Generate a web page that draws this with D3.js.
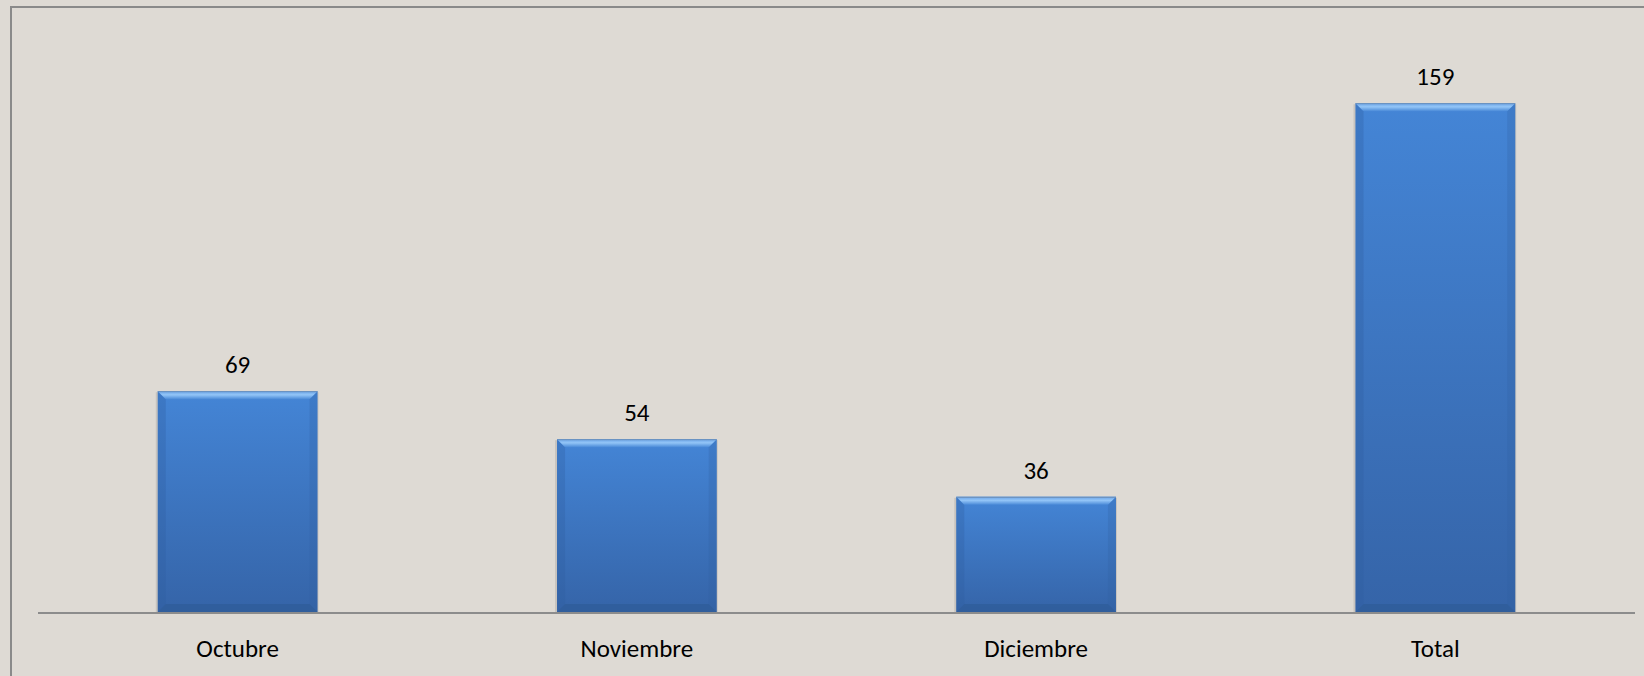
<!DOCTYPE html>
<html>
<head>
<meta charset="utf-8">
<script src="https://cdn.jsdelivr.net/npm/d3@7"></script>
<style>
  html, body { margin: 0; padding: 0; background: #dedad4; }
  svg { display: block; }
</style>
</head>
<body>
<svg width="1644" height="676"></svg>
<script>
const categories = ["Octubre", "Noviembre", "Diciembre", "Total"];
const values = [69, 54, 36, 159];
const yMax = 180;

const svg = d3.select("svg");
const width = 1644;
const height = 676;
const font = "Carlito, Calibri, Lato, sans-serif";

// background + outer frame
svg.append("rect").attr("width", width).attr("height", height).attr("fill", "#dedad4");
svg.append("rect")
  .attr("x", 11).attr("y", 7)
  .attr("width", width + 20).attr("height", height + 20)
  .attr("fill", "none").attr("stroke", "#8a8a8a").attr("stroke-width", 2);

const xScale = d3.scaleBand().domain(categories).range([38, 1635]).paddingInner(0.6).paddingOuter(0.3);
const yScale = d3.scaleLinear().domain([0, yMax]).range([612, 36]);

const defs = svg.append("defs");
const body = defs.append("linearGradient").attr("id", "body").attr("x1", 0).attr("y1", 0).attr("x2", 0).attr("y2", 1);
body.append("stop").attr("offset", "0%").attr("stop-color", "#4485d6");
body.append("stop").attr("offset", "100%").attr("stop-color", "#3564a8");
const topG = defs.append("linearGradient").attr("id", "topbev").attr("x1", 0).attr("y1", 0).attr("x2", 0).attr("y2", 1);
topG.append("stop").attr("offset", "0%").attr("stop-color", "#6aa3e8");
topG.append("stop").attr("offset", "45%").attr("stop-color", "#93c5f7");
topG.append("stop").attr("offset", "100%").attr("stop-color", "#4a8ad8");

const bev = 8;
const bars = svg.selectAll(".bar").data(values).enter().append("g").attr("class", "bar");
const bx = (d, i) => xScale(categories[i]);
const bw = xScale.bandwidth();
const by0 = yScale(0);

// soft shadow
bars.append("rect")
  .attr("x", (d, i) => bx(d, i) - 2).attr("y", (d) => yScale(d) + 1)
  .attr("width", bw + 3).attr("height", (d) => by0 - yScale(d) - 1)
  .attr("fill", "#000").attr("opacity", 0.1);

bars.append("rect")
  .attr("x", bx).attr("y", (d) => yScale(d))
  .attr("width", bw).attr("height", (d) => by0 - yScale(d))
  .attr("fill", "url(#body)");

// side bevels
bars.append("path").attr("fill", "#2f5e9e").attr("opacity", 0.3)
  .attr("d", (d, i) => {
    const x = bx(d, i), y = yScale(d);
    return `M${x},${y}L${x + bev},${y + bev}L${x + bev},${by0 - bev}L${x},${by0}Z`;
  });
bars.append("path").attr("fill", "#2f5e9e").attr("opacity", 0.25)
  .attr("d", (d, i) => {
    const x = bx(d, i) + bw, y = yScale(d);
    return `M${x},${y}L${x - bev},${y + bev}L${x - bev},${by0 - bev}L${x},${by0}Z`;
  });
// bottom bevel
bars.append("path").attr("fill", "#2b568f").attr("opacity", 0.45)
  .attr("d", (d, i) => {
    const x = bx(d, i);
    return `M${x},${by0}L${x + bev},${by0 - bev}L${x + bw - bev},${by0 - bev}L${x + bw},${by0}Z`;
  });
// top bevel
bars.append("path").attr("fill", "url(#topbev)")
  .attr("d", (d, i) => {
    const x = bx(d, i), y = yScale(d);
    return `M${x},${y}L${x + bw},${y}L${x + bw - bev},${y + bev}L${x + bev},${y + bev}Z`;
  });
bars.append("line")
  .attr("x1", bx).attr("x2", (d, i) => bx(d, i) + bw)
  .attr("y1", (d) => yScale(d) + 0.5).attr("y2", (d) => yScale(d) + 0.5)
  .attr("stroke", "#6b8fba").attr("stroke-width", 1);

// value labels
svg.selectAll(".val").data(values).enter().append("text")
  .attr("class", "val")
  .attr("x", (d, i) => bx(d, i) + bw / 2)
  .attr("y", (d) => yScale(d) - 18)
  .attr("text-anchor", "middle")
  .style("font-family", font).style("font-size", "25px").attr("fill", "#000")
  .text((d) => d);

// category axis
const xAxis = svg.append("g")
  .attr("transform", `translate(0, ${by0})`)
  .call(d3.axisBottom(xScale).tickSize(0).tickPadding(27));
xAxis.select(".domain").attr("stroke", "#8c8c8c").attr("stroke-width", 2).attr("d", "M38,1H1635");
xAxis.selectAll("text").style("font-family", font).style("font-size", "25px").attr("fill", "#000");
</script>
</body>
</html>
